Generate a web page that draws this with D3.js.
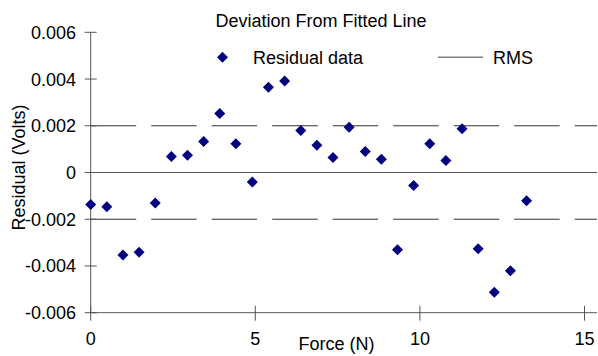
<!DOCTYPE html>
<html>
<head>
<meta charset="utf-8">
<script src="https://cdn.jsdelivr.net/npm/d3@7"></script>
<style>
  html, body { margin: 0; padding: 0; background: #fff; }
  svg { display: block; font-family: "Liberation Sans", Arial, sans-serif; }
</style>
</head>
<body>
<div id="chart"></div>
<script>
// Force values (N)
const force = [0, 0.49, 0.98, 1.47, 1.96, 2.45, 2.94, 3.43, 3.92, 4.41, 4.91, 5.40, 5.89, 6.38,
               6.87, 7.36, 7.85, 8.34, 8.83, 9.32, 9.81, 10.30, 10.79, 11.28, 11.77, 12.26, 12.75, 13.24];
// Residuals (Volts)
const residual = [-0.00137, -0.00147, -0.00353, -0.00341, -0.00131, 0.00068, 0.00074, 0.00133, 0.00252, 0.00123,
                  -0.00041, 0.00365, 0.00392, 0.00180, 0.00117, 0.00064, 0.00194, 0.00090, 0.00057, -0.00331,
                  -0.00056, 0.00123, 0.00051, 0.00187, -0.00326, -0.00513, -0.00421, -0.00121];
const rmsValue = 0.002;
const xTicks = [0, 5, 10, 15];
const yTicks = [-0.006, -0.004, -0.002, 0, 0.002, 0.004, 0.006];

const W = 598, H = 356;
const left = 90.7, right = 597;

const x = d3.scaleLinear().domain([0, 15]).range([left, 584.5]);
const y = d3.scaleLinear().domain([-0.006, 0.006]).range([312.7, 32.3]);

const svg = d3.select("#chart").append("svg")
    .attr("width", W)
    .attr("height", H);

// linia zero
svg.append("line")
    .attr("x1", left).attr("x2", right)
    .attr("y1", y(0)).attr("y2", y(0))
    .attr("stroke", "#555").attr("stroke-width", 1);

// RMS linie przerywane
[rmsValue, -rmsValue].forEach(v => {
    svg.append("line")
        .attr("x1", left).attr("x2", right)
        .attr("y1", y(v)).attr("y2", y(v))
        .attr("stroke", "#333").attr("stroke-width", 1)
        .attr("stroke-dasharray", "45.5,15");
});

// os Y
svg.append("line")
    .attr("x1", left).attr("x2", left)
    .attr("y1", y(0.006)).attr("y2", y(-0.006))
    .attr("stroke", "#555");
svg.selectAll(".ytick").data(yTicks).enter().append("line")
    .attr("x1", left - 6).attr("x2", left + 6)
    .attr("y1", d => y(d)).attr("y2", d => y(d))
    .attr("stroke", "#555");
svg.selectAll(".ylab").data(yTicks).enter().append("text")
    .attr("x", 76)
    .attr("y", d => y(d))
    .attr("dy", "0.36em")
    .attr("text-anchor", "end")
    .attr("font-size", "18px")
    .attr("fill", "#000")
    .text(d => d === 0 ? "0" : d3.format(".3f")(d).replace("−", "-"));

// os X
svg.append("line")
    .attr("x1", left).attr("x2", right)
    .attr("y1", y(-0.006)).attr("y2", y(-0.006))
    .attr("stroke", "#555");
svg.selectAll(".xtick").data(xTicks).enter().append("line")
    .attr("x1", d => x(d)).attr("x2", d => x(d))
    .attr("y1", y(-0.006) - 7).attr("y2", y(-0.006) + 8)
    .attr("stroke", "#555");
svg.selectAll(".xlab").data(xTicks).enter().append("text")
    .attr("x", d => x(d))
    .attr("y", 345)
    .attr("text-anchor", "middle")
    .attr("font-size", "18px")
    .text(d => d);

// punkty
const diamond = "M0,-5.5L5.5,0L0,5.5L-5.5,0Z";
svg.selectAll(".pt").data(force).enter().append("path")
    .attr("d", diamond)
    .attr("transform", (d, i) => `translate(${x(d)},${y(residual[i])})`)
    .attr("fill", "#000080");

// tytul
svg.append("text")
    .attr("x", 321).attr("y", 26.5)
    .attr("text-anchor", "middle")
    .attr("font-size", "18px")
    .text("Deviation From Fitted Line");

// etykiety osi
svg.append("text")
    .attr("x", 336.5).attr("y", 349.5)
    .attr("text-anchor", "middle")
    .attr("font-size", "18px")
    .text("Force (N)");
svg.append("text")
    .attr("transform", "translate(25,167.5) rotate(-90)")
    .attr("text-anchor", "middle")
    .attr("font-size", "18px")
    .text("Residual (Volts)");

// legenda
const legend = svg.append("g");
legend.append("path")
    .attr("d", diamond)
    .attr("transform", "translate(222.5,57.3)")
    .attr("fill", "#000080");
legend.append("text")
    .attr("x", 253).attr("y", 63.5)
    .attr("font-size", "18px")
    .text("Residual data");
legend.append("line")
    .attr("x1", 438).attr("x2", 483)
    .attr("y1", 57.3).attr("y2", 57.3)
    .attr("stroke", "#808080").attr("stroke-width", 1.5);
legend.append("text")
    .attr("x", 493).attr("y", 63.5)
    .attr("font-size", "18px")
    .text("RMS");
</script>
</body>
</html>
